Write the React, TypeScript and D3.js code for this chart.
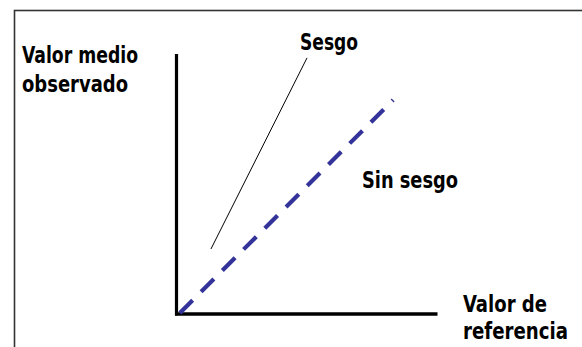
import React from "react";
import * as d3 from "d3";

const W = 582;
const H = 347;

// Data (in chart units, 0–100 on both axes)
const axisX = [0, 100];
const axisY = [0, 100];
const sinSesgoX = [1.3, 83];
const sinSesgoY = [0.4, 82.3];
const sesgoX = [13.2, 50];
const sesgoY = [25, 98.5];

const yTitle = ["Valor medio", "observado"];
const xTitle = ["Valor de", "referencia"];
const sesgoLabel = "Sesgo";
const sinSesgoLabel = "Sin sesgo";

const FONT = "'Liberation Sans Narrow', 'DejaVu Sans Condensed', 'DejaVu Sans', sans-serif";

export default function App() {
  const x = d3.scaleLinear().domain([0, 100]).range([176.5, 437.5]);
  const y = d3.scaleLinear().domain([0, 100]).range([314, 54]);
  const line = d3
    .line<[number, number]>()
    .x((d) => x(d[0]))
    .y((d) => y(d[1]));

  const unbiased: [number, number][] = sinSesgoX.map((v, i) => [v, sinSesgoY[i]]);
  const biased: [number, number][] = sesgoX.map((v, i) => [v, sesgoY[i]]);

  const textStyle: React.CSSProperties = {
    fontFamily: FONT,
    fontWeight: 700,
    fontSize: 23.5,
    fill: "#000",
  };

  const T = (props: { x: number; y: number; w: number; s: string }) => (
    <text x={props.x} y={props.y} style={textStyle} textLength={props.w} lengthAdjust="spacingAndGlyphs">
      {props.s}
    </text>
  );

  return (
    <svg
      width={W}
      height={H}
      viewBox={`0 0 ${W} ${H}`}
      style={{ position: "absolute", left: 0, top: 0, display: "block", background: "#fff" }}
    >
      <rect x={14.5} y={10.5} width={700} height={500} fill="#fff" stroke="#333" strokeWidth={1.6} />

      {/* axes */}
      <line x1={x(axisX[0])} y1={y(axisY[0]) + 1.5} x2={x(axisX[0])} y2={y(axisY[1])} stroke="#000" strokeWidth={3.2} />
      <line x1={x(axisX[0]) - 1.5} y1={y(axisY[0])} x2={x(axisX[1])} y2={y(axisY[0])} stroke="#000" strokeWidth={3.4} />

      {/* unbiased dashed line */}
      <path d={line(unbiased) || ""} fill="none" stroke="#333399" strokeWidth={4.2} strokeDasharray="18,12" />

      {/* biased line */}
      <path d={line(biased) || ""} fill="none" stroke="#000" strokeWidth={1} />

      {/* labels */}
      <T x={22} y={63} w={116} s={yTitle[0]} />
      <T x={22} y={92} w={106} s={yTitle[1]} />
      <T x={300} y={50} w={58} s={sesgoLabel} />
      <T x={362} y={188} w={96} s={sinSesgoLabel} />
      <T x={463} y={312} w={84} s={xTitle[0]} />
      <T x={463} y={339} w={105} s={xTitle[1]} />
    </svg>
  );
}
